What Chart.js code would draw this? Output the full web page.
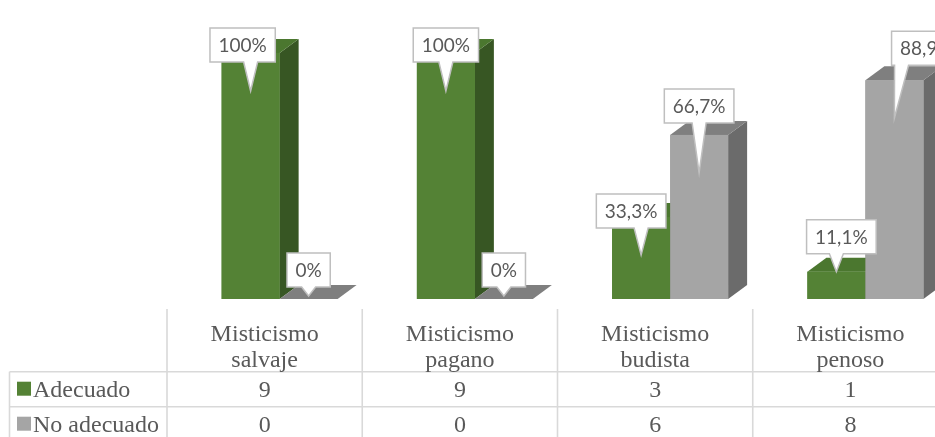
<!DOCTYPE html>
<html><head><meta charset="utf-8">
<script src="https://cdn.jsdelivr.net/npm/chart.js@4/dist/chart.umd.min.js"></script>
<style>
html,body{margin:0;padding:0;background:#fff;overflow:hidden;}
#wrap{width:935px;height:437px;overflow:hidden;position:relative;}
#box{width:950px;height:437px;position:absolute;left:0;top:0;}
</style></head><body>
<div id="wrap"><div id="box"><canvas id="c" width="950" height="437"></canvas></div></div>
<script>
// ---- data ----
const categories = [["Misticismo","salvaje"],["Misticismo","pagano"],["Misticismo","budista"],["Misticismo","penoso"]];
const seriesNames = ["Adecuado","No adecuado"];
const adecuadoCounts = [9, 9, 3, 1];
const noAdecuadoCounts = [0, 0, 6, 8];
const adecuadoPct = [100, 100, 33.3, 11.1];
const noAdecuadoPct = [0, 0, 66.7, 88.9];

// ---- style ----
const DX = 19, DY = 14, SHIFT = 15;
const faces = [
  {front:'#548235', top:'#4b772f', side:'#375623'},
  {front:'#a5a5a5', top:'#7f7f7f', side:'#6b6b6b'}
];
// callout nudges (dx, dy) per [category][series], label placement only
const calloutNudge = [
  [[-8,0],[0,0]],
  [[0,0],[0,0]],
  [[-10,23],[0,0]],
  [[5,-6],[32,-3]]
];
const counts = [adecuadoCounts, noAdecuadoCounts];

function fmtPct(v){
  return (Number.isInteger(v) ? String(v) : v.toFixed(1).replace('.', ',')) + '%';
}
function poly(ctx, pts, color){
  ctx.beginPath();
  ctx.moveTo(pts[0][0], pts[0][1]);
  for (let i=1;i<pts.length;i++) ctx.lineTo(pts[i][0], pts[i][1]);
  ctx.closePath();
  ctx.fillStyle = color; ctx.fill();
}
function callout(ctx, text, tipX, tipY, frontTop, nudge){
  ctx.font = '19px Lato';
  const tw = ctx.measureText(text).width;
  const w = tw + 17, h = 34;
  let bottom = frontTop - 12;
  let top = bottom - h;
  if (top < 28) { top = 28; }
  top += nudge[1];
  bottom = top + h;
  const cx = tipX + nudge[0];
  const L = cx - w/2, R = cx + w/2;
  let b1 = Math.max(L + 3, Math.min(R - 17, tipX - 7));
  let b2 = b1 + 14;
  ctx.beginPath();
  ctx.moveTo(L, top); ctx.lineTo(R, top); ctx.lineTo(R, bottom);
  ctx.lineTo(b2, bottom); ctx.lineTo(tipX, tipY); ctx.lineTo(b1, bottom);
  ctx.lineTo(L, bottom); ctx.closePath();
  ctx.fillStyle = '#ffffff'; ctx.fill();
  ctx.strokeStyle = '#bfbfbf'; ctx.lineWidth = 1.5; ctx.stroke();
  ctx.fillStyle = '#595959';
  ctx.textAlign = 'center'; ctx.textBaseline = 'middle';
  ctx.fillText(text, cx, top + h/2 + 1);
}

const bars3d = {
  id: 'bars3d',
  beforeDatasetsDraw(chart){ chart.ctx.save(); chart.ctx.translate(SHIFT, 0); },
  afterDatasetsDraw(chart){
    const ctx = chart.ctx;
    const n = chart.data.labels.length;
    const nd = chart.data.datasets.length;
    for (let i=0;i<n;i++){
      for (let d=0; d<nd; d++){
        const el = chart.getDatasetMeta(d).data[i];
        const p = el.getProps(['x','y','base','width'], true);
        const l = p.x - p.width/2, r = p.x + p.width/2;
        const f = faces[d];
        poly(ctx, [[r,p.base],[r,p.y],[r+DX,p.y-DY],[r+DX,p.base-DY]], f.side);
        poly(ctx, [[l,p.y],[r,p.y],[r+DX,p.y-DY],[l+DX,p.y-DY]], f.top);
        if (p.base - p.y > 0.5) { ctx.fillStyle = f.front; ctx.fillRect(l, p.y, p.width, p.base - p.y); }
      }
    }
    for (let i=0;i<n;i++){
      for (let d=0; d<nd; d++){
        const el = chart.getDatasetMeta(d).data[i];
        const p = el.getProps(['x','y','base','width'], true);
        const v = chart.data.datasets[d].data[i];
        const h = p.base - p.y;
        const tipY = h < 1 ? p.base - 3 : p.y + Math.min(38, Math.max(0, h - 38));
        callout(ctx, fmtPct(v), p.x, tipY, p.y, calloutNudge[i][d]);
      }
    }
    ctx.restore();
  },
  afterDraw(chart){
    const ctx = chart.ctx;
    const ca = chart.chartArea;
    const n = chart.data.labels.length;
    const colW = (ca.right - ca.left) / n;
    const tTop = ca.bottom + 10, hdrH = 62.7, rowH = 35, leftX = 9.5;
    const r1 = tTop + hdrH, r2 = r1 + rowH, r3 = r2 + rowH;
    ctx.save();
    ctx.strokeStyle = '#d9d9d9'; ctx.lineWidth = 1.6;
    ctx.beginPath();
    for (let k=0;k<=n;k++){ const x = ca.left + k*colW; ctx.moveTo(x, tTop); ctx.lineTo(x, r3); }
    ctx.moveTo(leftX, r1); ctx.lineTo(leftX, r3);
    ctx.moveTo(leftX, r1); ctx.lineTo(chart.width, r1);
    ctx.moveTo(leftX, r2); ctx.lineTo(chart.width, r2);
    ctx.moveTo(leftX, r3); ctx.lineTo(chart.width, r3);
    ctx.stroke();
    ctx.fillStyle = '#595959';
    ctx.font = '24px "Liberation Serif"';
    ctx.textAlign = 'center'; ctx.textBaseline = 'alphabetic';
    for (let i=0;i<n;i++){
      const cx = chart.scales.x.getPixelForValue(i);
      const lab = chart.data.labels[i];
      ctx.fillText(lab[0], cx, tTop + 32);
      ctx.fillText(lab[1], cx, tTop + 58);
      ctx.fillText(String(counts[0][i]), cx, r1 + 25);
      ctx.fillText(String(counts[1][i]), cx, r2 + 25);
    }
    ctx.textAlign = 'left';
    [r1, r2].forEach((ry, d) => {
      ctx.fillStyle = faces[d].front;
      ctx.fillRect(17, ry + 10, 14, 14);
      ctx.fillStyle = '#595959';
      ctx.fillText(seriesNames[d], 33, ry + 25);
    });
    ctx.restore();
  }
};

new Chart(document.getElementById('c'), {
  type: 'bar',
  data: {
    labels: categories,
    datasets: [
      {label: seriesNames[0], data: adecuadoPct, backgroundColor: faces[0].front},
      {label: seriesNames[1], data: noAdecuadoPct, backgroundColor: faces[1].front}
    ]
  },
  options: {
    responsive: false,
    devicePixelRatio: 1,
    animation: false,
    layout: {padding: {left: 167, right: 2, top: 53, bottom: 138}},
    datasets: {bar: {barPercentage: 1, categoryPercentage: 0.594}},
    plugins: {legend: {display: false}, tooltip: {enabled: false}},
    scales: {
      x: {display: false},
      y: {display: false, min: 0, max: 100}
    }
  },
  plugins: [bars3d]
});
</script>
</body></html>
